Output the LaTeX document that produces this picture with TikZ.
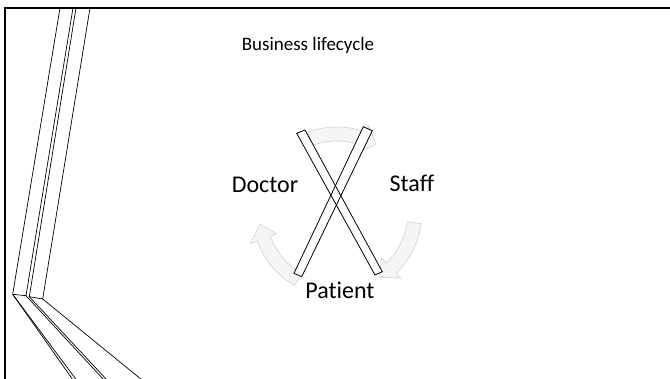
\documentclass[tikz,border=0pt]{standalone}
\usepackage{fontspec}
\setmainfont{Carlito}[Ligatures=NoCommon]
\begin{document}
\begin{tikzpicture}[x=1pt,y=-1pt,
  frameline/.style={line width=2.8pt,black},
  slabline/.style={line width=0.7pt,black},
  cyclearrow/.style={fill=gray!8,draw=gray!38,line width=0.6pt},
  bar/.style={draw=black,line width=0.8pt},
  label/.style={font=\fontsize{24}{28}\selectfont,inner sep=0pt},
  title/.style={font=\fontsize{19}{23}\selectfont,inner sep=0pt}]
\useasboundingbox (0,0) rectangle (670,379);

% outer frame (open to the right and bottom)
\coordinate (fTR) at (672,8);
\coordinate (fTL) at (5,8);
\coordinate (fBL) at (5,381);
\draw[frameline] (fTR) -- (fTL) -- (fBL);

% slanted slab on the left
\coordinate (a0) at (60,8);   \coordinate (a1) at (12.7,294.3);
\coordinate (b0) at (73,8);   \coordinate (b1) at (26,295.7);
\coordinate (c0) at (76,8);   \coordinate (c1) at (29.3,296.7);
\coordinate (d0) at (90,8);   \coordinate (d1) at (42.7,299);
\coordinate (a2) at (73,380); \coordinate (a3) at (76.5,380);
\coordinate (b2) at (104,380);\coordinate (c2) at (107,380);
\coordinate (d2) at (142,380);
\draw[slabline] (a0) -- (a1) -- (b1) -- (b0);
\draw[slabline] (c0) -- (c1) -- (d1) -- (d0);
\draw[slabline] (a1) -- (a2);
\draw[slabline] (a1) -- (a3);
\draw[slabline] (b1) -- (b2);
\draw[slabline] (c1) -- (c2);
\draw[slabline] (d1) -- (d2);

% title
\node[title] (ttl) at (308,45) {Business lifecycle};

% circular arrows of the cycle
\begin{scope}[shift={(337,212)}]
  % top arrow
  \path[cyclearrow] (110:85pt) arc[start angle=110,end angle=70,radius=85pt]
     -- (70:92pt) -- (60:78pt) -- (70:64pt) -- (70:71pt)
     arc[start angle=70,end angle=110,radius=71pt] -- cycle;
  % right arrow
  \path[cyclearrow] (-8:85pt) arc[start angle=-8,end angle=-46,radius=85pt]
     -- (-46:92pt) -- (-57:78pt) -- (-46:64pt) -- (-46:71pt)
     arc[start angle=-46,end angle=-8,radius=71pt] -- cycle;
  % left arrow
  \path[cyclearrow] (-120:85pt) arc[start angle=-120,end angle=-160,radius=85pt]
     -- (-160:92pt) -- (-171:78pt) -- (-160:64pt) -- (-160:71pt)
     arc[start angle=-160,end angle=-120,radius=71pt] -- cycle;
\end{scope}

% crossed bars
\coordinate (p1) at (296.7,133.3); \coordinate (p2) at (305,130);
\coordinate (p3) at (382.3,271.7); \coordinate (p4) at (375,275);
\coordinate (q1) at (363.3,126.7); \coordinate (q2) at (372.3,130.7);
\coordinate (q3) at (301.7,276.7); \coordinate (q4) at (294,273.3);
\fill[white] (p1) -- (p2) -- (p3) -- (p4) -- cycle;
\fill[white] (q1) -- (q2) -- (q3) -- (q4) -- cycle;
\draw[bar] (p1) -- (p2) -- (p3) -- (p4) -- cycle;
\draw[bar] (q1) -- (q2) -- (q3) -- (q4) -- cycle;

% labels
\node[label] (doctor) at (265,185) {Doctor};
\node[label] (staff) at (412,183) {Staff};
\node[label] (patient) at (340,290) {Patient};
\end{tikzpicture}
\end{document}
